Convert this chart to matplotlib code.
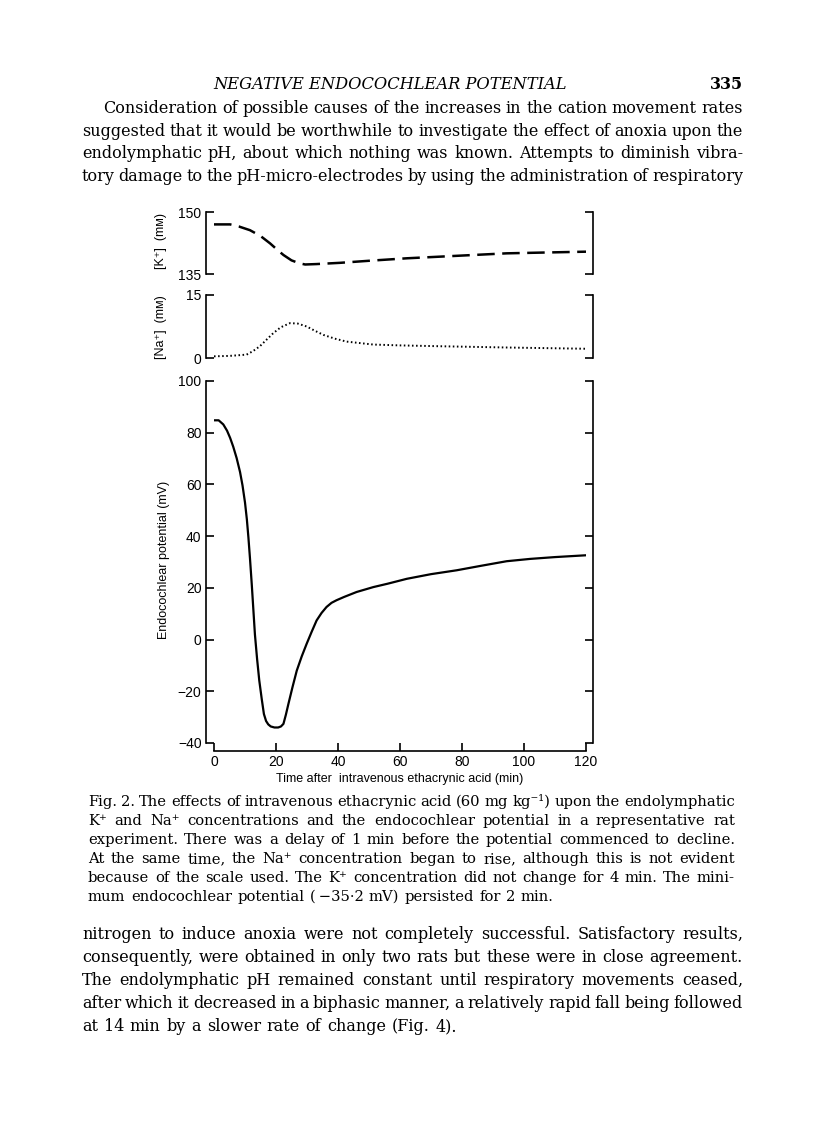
import matplotlib
matplotlib.use("Agg")
import matplotlib.pyplot as plt

# --- data ---
k_time = [0, 3, 5.2, 8, 11.6, 15, 18.1, 20.5, 22.4, 25, 27.5, 29.4, 33, 40.6, 50,
          62.2, 73, 83.7, 94.4, 107, 120]
k_mm = [147.0, 147.0, 147.0, 146.5, 145.6, 144.2, 142.4, 140.8, 139.6, 138.3, 137.6,
        137.3, 137.4, 137.7, 138.2, 138.8, 139.2, 139.6, 140.0, 140.2, 140.4]

na_time = [0, 5, 10.5, 12.5, 14.8, 17, 19.1, 21.5, 24.5, 27, 29.9, 32.5, 35.3, 39,
           42.8, 51.4, 60, 72.9, 94.4, 120]
na_mm = [0.4, 0.5, 0.8, 1.6, 2.8, 4.4, 5.9, 7.3, 8.3, 8.2, 7.5, 6.5, 5.5, 4.6, 3.9,
         3.2, 3.0, 2.8, 2.5, 2.2]

ep_time = [0, 1.5, 3, 4.2, 5.2, 6.2, 7.3, 8.4, 9.2, 10, 10.6, 11.1, 11.6, 12.2, 12.7,
           13.2, 13.9, 14.6, 15.4, 16.1, 16.8, 17.5, 18.3, 19.5, 20.7, 21.6, 22.4,
           23.2, 24, 25.3, 26.7, 28.3, 29.9, 31.5, 33.1, 34.7, 36.3, 37.9, 39.5, 42,
           46, 51.4, 56, 62.2, 70, 78.3, 86, 94.4, 102, 110, 120]
ep_mv = [84.8, 84.8, 83.2, 80.8, 78, 74.6, 70.2, 64.8, 59.6, 53, 46.5, 39.5, 31.5, 21,
         11.5, 2, -7.5, -15.8, -23, -28.8, -31.5, -32.8, -33.6, -34, -34, -33.6, -32.6,
         -29, -24.9, -18.5, -12, -6.5, -1.6, 3, 7.4, 10.3, 12.6, 14.2, 15.2, 16.5,
         18.4, 20.3, 21.6, 23.5, 25.3, 26.8, 28.5, 30.3, 31.2, 31.9, 32.6]

ep_ticks = [-40, -20, 0, 20, 40, 60, 80, 100]
time_ticks = [0, 20, 40, 60, 80, 100, 120]

header = "NEGATIVE ENDOCOCHLEAR POTENTIAL"
page_no = "335"
para_top = [
    "Consideration of possible causes of the increases in the cation movement rates",
    "suggested that it would be worthwhile to investigate the effect of anoxia upon the",
    "endolymphatic pH, about which nothing was known. Attempts to diminish vibra-",
    "tory damage to the pH-micro-electrodes by using the administration of respiratory",
]
caption = [
    "Fig. 2. The effects of intravenous ethacrynic acid (60 mg kg\u207b\u00b9) upon the endolymphatic",
    "K\u207a and Na\u207a concentrations and the endocochlear potential in a representative rat",
    "experiment. There was a delay of 1 min before the potential commenced to decline.",
    "At the same time, the Na\u207a concentration began to rise, although this is not evident",
    "because of the scale used. The K\u207a concentration did not change for 4 min. The mini-",
    "mum endocochlear potential (\u2009\u221235\u00b72 mV) persisted for 2 min.",
]
para_bottom = [
    "nitrogen to induce anoxia were not completely successful. Satisfactory results,",
    "consequently, were obtained in only two rats but these were in close agreement.",
    "The endolymphatic pH remained constant until respiratory movements ceased,",
    "after which it decreased in a biphasic manner, a relatively rapid fall being followed",
    "at 14 min by a slower rate of change (Fig. 4).",
]

SANS = ["Liberation Sans", "DejaVu Sans"]
SERIF = ["DejaVu Serif", "DejaVu Sans"]
plt.rcParams["font.family"] = SANS

W, H = 816, 1127
fig = plt.figure(figsize=(W / 100, H / 100), dpi=100)
renderer = fig.canvas.get_renderer()


def axes_px(x0, y0, x1, y1):
    return fig.add_axes([x0 / W, 1 - y1 / H, (x1 - x0) / W, (y1 - y0) / H])


def put(x, y, s, **kw):
    return fig.text(x / W, 1 - y / H, s, **kw)


def justify(line, x0, x1, y, size, last=False):
    words = line.split(" ")
    texts = [put(0, y, w, fontsize=size, family=SERIF, va="baseline") for w in words]
    widths = [t.get_window_extent(renderer).width for t in texts]
    if last or len(words) == 1:
        gap = 0.36 * size * 100 / 72
    else:
        gap = (x1 - x0 - sum(widths)) / (len(words) - 1)
    x = x0
    for t, w in zip(texts, widths):
        t.set_x(x / W)
        x += w + gap


def style(ax, ylim, yticks, bottom=False):
    ax.set_xlim(0, 120)
    ax.set_ylim(*ylim)
    ax.set_facecolor("none")
    ax.spines["top"].set_visible(False)
    ax.spines["left"].set_position(("outward", 6))
    ax.spines["right"].set_position(("outward", 5))
    for s in ax.spines.values():
        s.set_linewidth(1.2)
    ax.set_yticks(yticks)
    ax.tick_params(axis="y", direction="in", length=6, width=1.2, labelsize=10,
                   right=True, pad=3)
    if bottom:
        ax.spines["bottom"].set_position(("outward", 6))
        ax.set_xticks(time_ticks)
        ax.tick_params(axis="x", direction="in", length=6, width=1.2, labelsize=10, pad=3)
    else:
        ax.spines["bottom"].set_visible(False)
        ax.set_xticks([])


# K+ panel
ax_k = axes_px(214, 212, 586, 274)
ax_k.plot(k_time, k_mm, color="black", lw=1.8, linestyle=(0, (7, 3)))
style(ax_k, (135, 150), [135, 150])

# Na+ panel
ax_na = axes_px(214, 295, 586, 358)
ax_na.plot(na_time, na_mm, color="black", lw=1.4, linestyle=(0, (0.8, 1.3)))
style(ax_na, (0, 15), [0, 15])

# endocochlear potential
ax_ep = axes_px(214, 381, 586, 743)
ax_ep.plot(ep_time, ep_mv, color="black", lw=1.6)
style(ax_ep, (-40, 100), ep_ticks, bottom=True)

put(161, 241, "[K\u207a]  (m\u1d0d)", fontsize=9, rotation=90, ha="center", va="center")
put(161, 327, "[Na\u207a]  (m\u1d0d)", fontsize=9, rotation=90, ha="center", va="center")
put(164, 560, "Endocochlear potential (mV)", fontsize=9, rotation=90,
    ha="center", va="center")
put(400, 779, "Time after  intravenous ethacrynic acid (min)", fontsize=9,
    ha="center", va="center")

# page text
put(390, 89, header, fontsize=11.7, family=SERIF, style="italic", ha="center", va="baseline")
put(743, 89, page_no, fontsize=11.5, family=SERIF, weight="bold", ha="right", va="baseline")

for i, line in enumerate(para_top):
    justify(line, 103 if i == 0 else 82, 743, 113 + i * 22.7, 11.5)

for i, line in enumerate(caption):
    justify(line, 88, 735, 806 + i * 19, 10.6, last=(i == len(caption) - 1))

for i, line in enumerate(para_bottom):
    justify(line, 82, 743, 939 + i * 23, 11.5, last=(i == len(para_bottom) - 1))

fig.savefig("out.png", dpi=100)
